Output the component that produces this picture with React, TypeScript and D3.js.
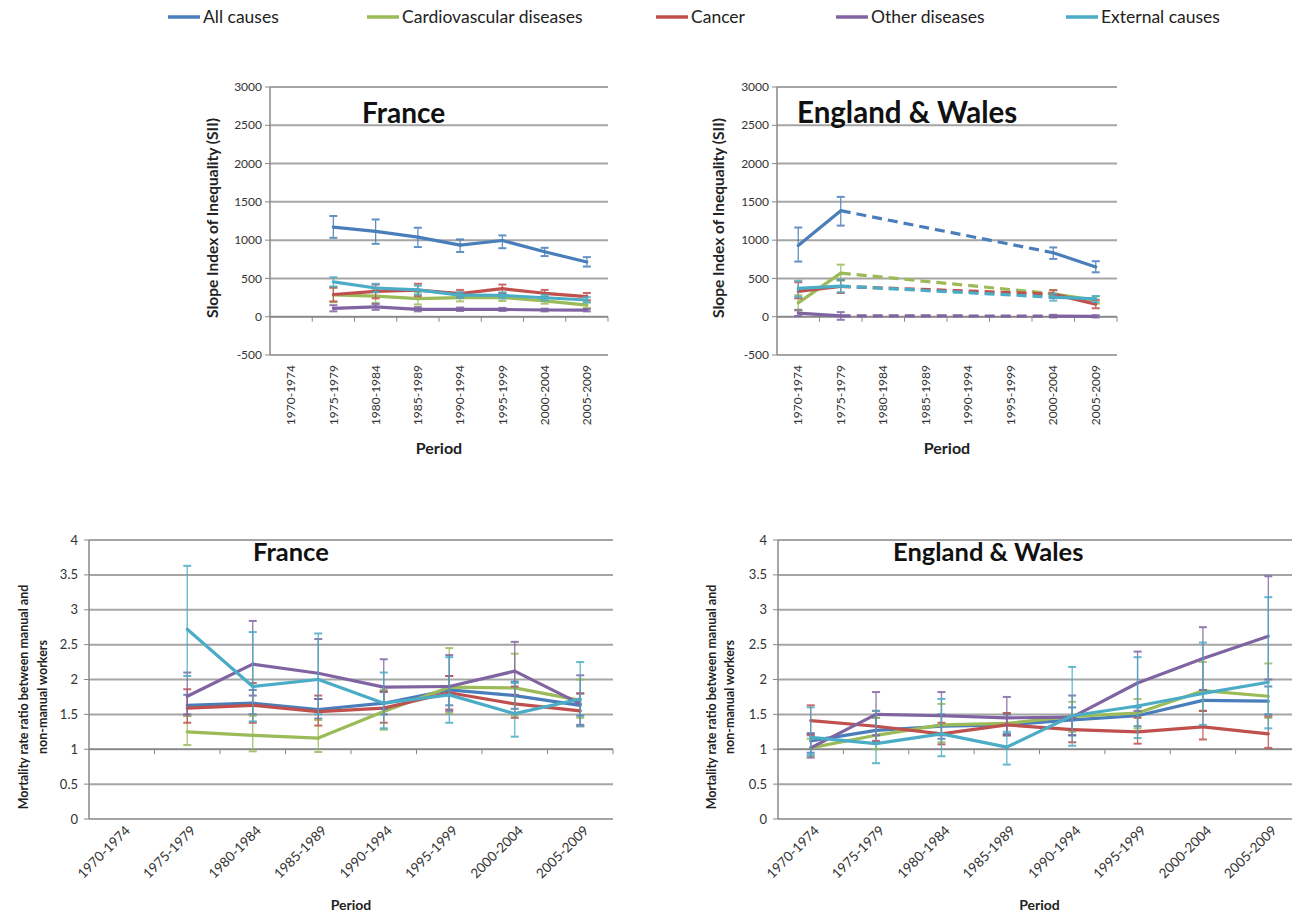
import React from 'react';
import * as d3 from 'd3';

const periods = ['1970-1974', '1975-1979', '1980-1984', '1985-1989', '1990-1994', '1995-1999', '2000-2004', '2005-2009'];
const causes = ['All causes', 'Cardiovascular diseases', 'Cancer', 'Other diseases', 'External causes'];
const colors = ['#4A7EBB', '#9BBB59', '#C0504D', '#8064A2', '#4BACC6'];

const siiTicks = [-500, 0, 500, 1000, 1500, 2000, 2500, 3000];
const ratioTicks = [0, 0.5, 1, 1.5, 2, 2.5, 3, 3.5, 4];

// France, slope index of inequality
const frSiiAll = [null, 1170, 1115, 1040, 935, 995, 848, 715];
const frSiiAllLo = [null, 1030, 952, 910, 845, 895, 792, 655];
const frSiiAllHi = [null, 1315, 1270, 1162, 1010, 1062, 900, 778];
const frSiiCvd = [null, 284, 268, 237, 250, 250, 207, 151];
const frSiiCvdLo = [null, 190, 180, 160, 200, 205, 170, 115];
const frSiiCvdHi = [null, 380, 350, 320, 300, 295, 245, 190];
const frSiiCancer = [null, 290, 330, 348, 302, 366, 306, 263];
const frSiiCancerLo = [null, 200, 240, 270, 250, 310, 260, 215];
const frSiiCancerHi = [null, 380, 420, 430, 350, 420, 350, 310];
const frSiiOther = [null, 110, 128, 97, 97, 95, 88, 85];
const frSiiOtherLo = [null, 70, 90, 70, 75, 75, 70, 70];
const frSiiOtherHi = [null, 150, 165, 125, 120, 115, 105, 100];
const frSiiExt = [null, 455, 375, 350, 282, 278, 248, 218];
const frSiiExtLo = [null, 395, 320, 290, 245, 240, 215, 185];
const frSiiExtHi = [null, 515, 430, 405, 320, 318, 285, 255];

// England & Wales, slope index of inequality
const ewSiiAll = [930, 1385, null, null, null, null, 835, 650];
const ewSiiAllLo = [720, 1190, null, null, null, null, 755, 580];
const ewSiiAllHi = [1165, 1565, null, null, null, null, 905, 725];
const ewSiiCvd = [180, 570, null, null, null, null, 300, 215];
const ewSiiCvdLo = [80, 470, null, null, null, null, 250, 170];
const ewSiiCvdHi = [280, 680, null, null, null, null, 350, 265];
const ewSiiCancer = [330, 395, null, null, null, null, 295, 165];
const ewSiiCancerLo = [240, 310, null, null, null, null, 245, 110];
const ewSiiCancerHi = [450, 480, null, null, null, null, 345, 220];
const ewSiiOther = [48, 12, null, null, null, null, 8, 4];
const ewSiiOtherLo = [10, -40, null, null, null, null, -10, -10];
const ewSiiOtherHi = [90, 60, null, null, null, null, 25, 20];
const ewSiiExt = [370, 400, null, null, null, null, 255, 232];
const ewSiiExtLo = [260, 320, null, null, null, null, 210, 190];
const ewSiiExtHi = [470, 480, null, null, null, null, 300, 270];

// France, mortality rate ratio
const frRrAll = [null, 1.63, 1.66, 1.57, 1.66, 1.85, 1.77, 1.63];
const frRrAllLo = [null, 1.48, 1.5, 1.44, 1.5, 1.63, 1.58, 1.48];
const frRrAllHi = [null, 1.78, 1.85, 1.72, 1.82, 2.05, 1.97, 1.8];
const frRrCvd = [null, 1.25, 1.2, 1.16, 1.54, 1.89, 1.88, 1.7];
const frRrCvdLo = [null, 1.06, 0.97, 0.96, 1.28, 1.52, 1.48, 1.45];
const frRrCvdHi = [null, 1.48, 1.48, 1.42, 1.85, 2.45, 2.37, 2.0];
const frRrCancer = [null, 1.59, 1.63, 1.54, 1.59, 1.81, 1.65, 1.55];
const frRrCancerLo = [null, 1.38, 1.38, 1.34, 1.38, 1.57, 1.45, 1.33];
const frRrCancerHi = [null, 1.86, 1.95, 1.77, 1.83, 2.05, 1.9, 1.8];
const frRrOther = [null, 1.76, 2.22, 2.09, 1.89, 1.9, 2.12, 1.65];
const frRrOtherLo = [null, 1.5, 1.77, 1.72, 1.58, 1.55, 1.78, 1.35];
const frRrOtherHi = [null, 2.1, 2.84, 2.58, 2.29, 2.35, 2.54, 2.06];
const frRrExt = [null, 2.72, 1.9, 2.0, 1.66, 1.78, 1.51, 1.72];
const frRrExtLo = [null, 2.05, 1.4, 1.5, 1.3, 1.38, 1.18, 1.33];
const frRrExtHi = [null, 3.63, 2.68, 2.66, 2.1, 2.32, 1.95, 2.25];

// England & Wales, mortality rate ratio
const ewRrAll = [1.12, 1.27, 1.33, 1.35, 1.42, 1.48, 1.7, 1.69];
const ewRrAllLo = [0.95, 1.1, 1.15, 1.22, 1.2, 1.33, 1.55, 1.5];
const ewRrAllHi = [1.23, 1.45, 1.5, 1.5, 1.6, 1.6, 1.85, 1.9];
const ewRrCvd = [1.02, 1.2, 1.35, 1.37, 1.47, 1.52, 1.84, 1.76];
const ewRrCvdLo = [0.9, 1.0, 1.1, 1.2, 1.25, 1.3, 1.55, 1.45];
const ewRrCvdHi = [1.15, 1.45, 1.65, 1.52, 1.68, 1.72, 2.25, 2.23];
const ewRrCancer = [1.41, 1.33, 1.22, 1.35, 1.28, 1.25, 1.32, 1.22];
const ewRrCancerLo = [1.2, 1.12, 1.07, 1.2, 1.1, 1.08, 1.14, 1.02];
const ewRrCancerHi = [1.63, 1.55, 1.38, 1.52, 1.45, 1.45, 1.55, 1.47];
const ewRrOther = [1.02, 1.5, 1.48, 1.45, 1.46, 1.95, 2.3, 2.62];
const ewRrOtherLo = [0.88, 1.2, 1.2, 1.2, 1.2, 1.55, 1.85, 2.0];
const ewRrOtherHi = [1.22, 1.82, 1.82, 1.75, 1.77, 2.4, 2.75, 3.48];
const ewRrExt = [1.17, 1.08, 1.22, 1.03, 1.48, 1.62, 1.8, 1.96];
const ewRrExtLo = [0.92, 0.8, 0.9, 0.78, 1.05, 1.16, 1.35, 1.3];
const ewRrExtHi = [1.6, 1.55, 1.72, 1.25, 2.18, 2.32, 2.53, 3.18];

const font = "Lato, 'Open Sans', sans-serif";

type Series = { values: (number | null)[], lo: (number | null)[], hi: (number | null)[], color: string };

function mk(vals: any[][]): Series[] {
  return vals.map((v, i) => ({ values: v[0], lo: v[1], hi: v[2], color: colors[i] }));
}

const frSii = mk([[frSiiAll, frSiiAllLo, frSiiAllHi], [frSiiCvd, frSiiCvdLo, frSiiCvdHi], [frSiiCancer, frSiiCancerLo, frSiiCancerHi], [frSiiOther, frSiiOtherLo, frSiiOtherHi], [frSiiExt, frSiiExtLo, frSiiExtHi]]);
const ewSii = mk([[ewSiiAll, ewSiiAllLo, ewSiiAllHi], [ewSiiCvd, ewSiiCvdLo, ewSiiCvdHi], [ewSiiCancer, ewSiiCancerLo, ewSiiCancerHi], [ewSiiOther, ewSiiOtherLo, ewSiiOtherHi], [ewSiiExt, ewSiiExtLo, ewSiiExtHi]]);
const frRr = mk([[frRrAll, frRrAllLo, frRrAllHi], [frRrCvd, frRrCvdLo, frRrCvdHi], [frRrCancer, frRrCancerLo, frRrCancerHi], [frRrOther, frRrOtherLo, frRrOtherHi], [frRrExt, frRrExtLo, frRrExtHi]]);
const ewRr = mk([[ewRrAll, ewRrAllLo, ewRrAllHi], [ewRrCvd, ewRrCvdLo, ewRrCvdHi], [ewRrCancer, ewRrCancerLo, ewRrCancerHi], [ewRrOther, ewRrOtherLo, ewRrOtherHi], [ewRrExt, ewRrExtLo, ewRrExtHi]]);

function Panel(props: any) {
  const { left, right, top, bottom, ticks, cross, series, title, titleX, titleY, titleSize,
    yTitle, yTitleX, yTitleY, yTitleSize, tickSize, tickGap, labelMode, labelY, labelSize, periodY, periodSize } = props;
  const x = d3.scaleBand().domain(periods).range([left, right]);
  const y = d3.scaleLinear().domain([ticks[0], ticks[ticks.length - 1]]).range([bottom, top]);
  const bw = x.bandwidth();
  const cx = (p: string) => (x(p) as number) + bw / 2;
  const line = d3.line<[number, number]>();

  return (
    <g fontFamily={font}>
      {ticks.map((t: number) => (
        <g key={t}>
          <line x1={left} x2={right} y1={y(t)} y2={y(t)} stroke="#a5a5a5" strokeWidth={2} />
          <line x1={left - 5} x2={left} y1={y(t)} y2={y(t)} stroke="#888" strokeWidth={1} />
          <text x={left - tickGap} y={y(t)} dy="0.35em" textAnchor="end" fontSize={tickSize} fill="#333">{t}</text>
        </g>
      ))}
      <line x1={left} x2={left} y1={top} y2={bottom} stroke="#888" strokeWidth={1.5} />
      <line x1={left} x2={right} y1={y(cross)} y2={y(cross)} stroke="#888" strokeWidth={1.5} />
      {periods.map(p => (
        <line key={p} x1={(x(p) as number) + bw} x2={(x(p) as number) + bw} y1={y(cross)} y2={y(cross) + 5} stroke="#888" strokeWidth={1} />
      ))}

      {series.map((s: Series, si: number) => {
        const idx = periods.map((_, i) => i).filter(i => s.values[i] != null);
        const solid: string[] = [];
        const dashed: string[] = [];
        for (let k = 0; k < idx.length - 1; k++) {
          const a = idx[k], b = idx[k + 1];
          const d = line([[cx(periods[a]), y(s.values[a] as number)], [cx(periods[b]), y(s.values[b] as number)]]) as string;
          if (b - a === 1) solid.push(d); else dashed.push(d);
        }
        return (
          <g key={si}>
            {idx.map(i => {
              const px = cx(periods[i]);
              const y1 = y(s.lo[i] as number), y2 = y(s.hi[i] as number);
              return (
                <g key={i} stroke={s.color} strokeWidth={1.3} opacity={0.85}>
                  <line x1={px} x2={px} y1={y1} y2={y2} />
                  <line x1={px - 4} x2={px + 4} y1={y1} y2={y1} strokeWidth={2} />
                  <line x1={px - 4} x2={px + 4} y1={y2} y2={y2} strokeWidth={2} />
                </g>
              );
            })}
            {solid.map((d, k) => <path key={'s' + k} d={d} fill="none" stroke={s.color} strokeWidth={3.2} strokeLinecap="round" />)}
            {dashed.map((d, k) => <path key={'d' + k} d={d} fill="none" stroke={s.color} strokeWidth={3.2} strokeDasharray="10,6" />)}
          </g>
        );
      })}

      {periods.map(p => labelMode === 'vertical' ? (
        <text key={p} transform={`translate(${cx(p)},${labelY}) rotate(-90)`} dy="0.35em" textAnchor="end" fontSize={labelSize} fill="#333">{p}</text>
      ) : (
        <text key={p} transform={`translate(${cx(p) + 6},${labelY}) rotate(-45)`} dy="0.35em" textAnchor="end" fontSize={labelSize} fill="#333">{p}</text>
      ))}

      <text x={(left + right) / 2} y={periodY} textAnchor="middle" fontWeight="bold" fontSize={periodSize} fill="#222">Period</text>
      {yTitle.map((t: string, k: number) => (
        <text key={k} transform={`translate(${yTitleX[k]},${yTitleY}) rotate(-90)`} dy="0.35em" textAnchor="middle" fontWeight="bold" fontSize={yTitleSize} fill="#222">{t}</text>
      ))}
      <text x={titleX} y={titleY} fontWeight="bold" fontSize={titleSize} fill="#111">{title}</text>
    </g>
  );
}

export default function App() {
  const legendX = [168, 367, 656, 836, 1066];
  const topCommon = {
    top: 87, bottom: 355, ticks: siiTicks, cross: 0, yTitle: ['Slope Index of Inequality (SII)'], yTitleY: 218,
    yTitleSize: 15.5, tickSize: 12, tickGap: 8, labelMode: 'vertical', labelY: 365, labelSize: 12, periodY: 454, periodSize: 16,
    titleY: 123
  };
  const botCommon = {
    top: 540, bottom: 819, ticks: ratioTicks, cross: 1, yTitleY: 697,
    yTitle: ['Mortality rate ratio between manual and', 'non-manual workers'],
    yTitleSize: 12.5, tickSize: 13, tickGap: 11, labelMode: 'diag', labelY: 828, labelSize: 13.5, periodY: 910, periodSize: 14,
    titleSize: 25.5, titleY: 561
  };
  return (
    <svg width={1292} height={915} style={{ position: 'absolute', left: 0, top: 0, background: '#fff' }}>
      <g fontFamily={font}>
        {causes.map((c, i) => (
          <g key={c}>
            <line x1={legendX[i]} x2={legendX[i] + 32} y1={17} y2={17} stroke={colors[i]} strokeWidth={3.5} />
            <text x={legendX[i] + 35} y={17} dy="0.35em" fontSize={17.5} fill="#222">{c}</text>
          </g>
        ))}
      </g>
      <Panel {...topCommon} left={270} right={608} series={frSii} title="France" titleX={362} titleSize={28} yTitleX={[213]} />
      <Panel {...topCommon} left={777} right={1117} series={ewSii} title="England & Wales" titleX={797} titleSize={29.5} yTitleX={[719]} />
      <Panel {...botCommon} left={89} right={613} series={frRr} title="France" titleX={253} yTitleX={[24, 43]} />
      <Panel {...botCommon} left={778} right={1301} series={ewRr} title="England & Wales" titleX={893} yTitleX={[712, 730]} />
    </svg>
  );
}
